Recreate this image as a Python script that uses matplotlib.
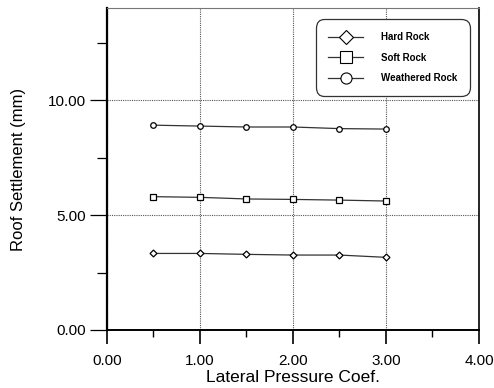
import matplotlib
matplotlib.use("Agg")
import matplotlib.pyplot as plt
from matplotlib.lines import Line2D
from matplotlib.ticker import MultipleLocator, FormatStrFormatter

plt.rcParams['font.family'] = ['Liberation Sans', 'DejaVu Sans']

coef = [0.5, 1.0, 1.5, 2.0, 2.5, 3.0]
hard_rock = [3.33, 3.33, 3.29, 3.26, 3.26, 3.16]
soft_rock = [5.80, 5.77, 5.70, 5.68, 5.65, 5.61]
weathered_rock = [8.91, 8.87, 8.83, 8.83, 8.76, 8.74]
series_names = ["Hard Rock", "Soft Rock", "Weathered Rock"]

fig = plt.figure(figsize=(4.94, 3.88), dpi=100)
ax = fig.add_axes([0.2166, 0.1495, 0.753, 0.8295])

lc = '#333333'
ax.plot(coef, hard_rock, color=lc, lw=0.9, marker='D', ms=3.5, mfc='white', mec='black', mew=0.9)
ax.plot(coef, soft_rock, color=lc, lw=0.9, marker='s', ms=4.5, mfc='white', mec='black', mew=0.9)
ax.plot(coef, weathered_rock, color=lc, lw=0.9, marker='o', ms=4, mfc='white', mec='black', mew=0.9)

ax.set_xlim(0, 4)
ax.set_ylim(0, 14)
ax.xaxis.set_major_locator(MultipleLocator(1))
ax.xaxis.set_minor_locator(MultipleLocator(0.5))
ax.yaxis.set_major_locator(MultipleLocator(5))
ax.yaxis.set_minor_locator(MultipleLocator(2.5))
ax.xaxis.set_major_formatter(FormatStrFormatter('%.2f'))
ax.yaxis.set_major_formatter(FormatStrFormatter('%.2f'))

ax.grid(True, which='major', color='#555555', lw=0.8, ls=(0, (1, 1)))
ax.tick_params(axis='x', which='major', direction='out', length=10, width=1.2, labelsize=11, pad=7, color='black')
ax.tick_params(axis='x', which='minor', direction='out', length=5, width=1.0)
ax.tick_params(axis='y', which='major', direction='out', length=12, width=0.9, labelsize=11, pad=3)
ax.tick_params(axis='y', which='minor', direction='out', length=7, width=0.9)

ax.spines['left'].set_linewidth(1.6)
ax.spines['bottom'].set_linewidth(1.4)
ax.spines['right'].set_linewidth(1.2)
ax.spines['top'].set_linewidth(0.8)
ax.spines['top'].set_color('#777777')

ax.set_xlabel("Lateral Pressure Coef.", fontsize=12.5, labelpad=2)
ax.set_ylabel("Roof Settlement (mm)", fontsize=12, labelpad=16)

handles = [
    Line2D([], [], color=lc, lw=0.9, marker='D', ms=7, mfc='white', mec='black', mew=0.8),
    Line2D([], [], color=lc, lw=0.9, marker='s', ms=8, mfc='white', mec='black', mew=0.8),
    Line2D([], [], color=lc, lw=0.9, marker='o', ms=8, mfc='white', mec='black', mew=0.8),
]
leg = ax.legend(handles, series_names, loc='upper right', bbox_to_anchor=(0.975, 0.965),
                prop={'size': 7, 'weight': 'bold'}, frameon=True, fancybox=True,
                borderpad=1.3, labelspacing=1.1, handlelength=3.6, handletextpad=1.8,
                borderaxespad=0.0)
frame = leg.get_frame()
frame.set_edgecolor('#333333')
frame.set_linewidth(0.9)
frame.set_alpha(1)
frame.set_boxstyle('round,pad=0,rounding_size=0.9')

fig.savefig("out.png", dpi=100)
